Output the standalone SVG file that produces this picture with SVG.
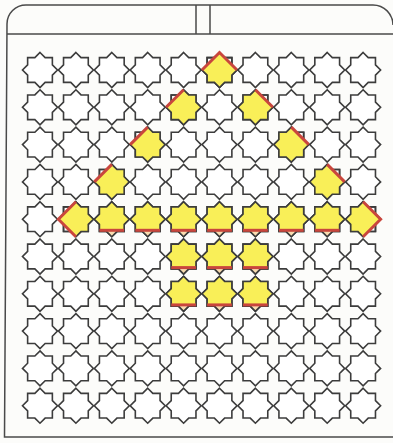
<svg xmlns="http://www.w3.org/2000/svg" xmlns:xlink="http://www.w3.org/1999/xlink" width="393" height="443" viewBox="0 0 393 443">
<style>
.bg{fill:#fcfcfa}
.fr{fill:none;stroke:#4a4a4a;stroke-width:1.5}
.st{fill:#fff;stroke:#3c3c3c;stroke-width:1.6}
.so{fill:none;stroke:#3c3c3c;stroke-width:1.6}
.y{fill:#f9ef58}
.tip{fill:#f9dcb0}
.r{fill:none;stroke:#c9463d;stroke-width:3}
</style>
<defs>
<path id="sp" d="M0,-17.5 L5.13,-12.37 L12.37,-12.37 L12.37,-5.13 L17.5,0 L12.37,5.13 L12.37,12.37 L5.13,12.37 L0,17.5 L-5.13,12.37 L-12.37,12.37 L-12.37,5.13 L-17.5,0 L-12.37,-5.13 L-12.37,-12.37 L-5.13,-12.37 Z"/>
<g id="star"><use href="#sp" class="st"/></g>
<g id="yB"><use href="#sp" class="st"/><path class="y" d="M0,-17.5 L5.13,-12.37 L12.37,-12.37 L12.37,-5.13 L17.5,0 L12.37,5.13 L12.37,12.37 L-12.37,12.37 L-12.37,5.13 L-17.5,0 L-12.37,-5.13 L-12.37,-12.37 L-5.13,-12.37 Z"/><path class="tip" d="M-5.13,12.37 L0,17.5 L5.13,12.37 Z"/><use href="#sp" class="so"/><path class="r" d="M-12.37,11.1 H12.37"/></g>
<g id="yTL"><use href="#sp" class="st"/><path class="y" d="M0,-17.5 L5.13,-12.37 L12.37,-12.37 L12.37,-5.13 L17.5,0 L12.37,5.13 L12.37,12.37 L5.13,12.37 L0,17.5 L-5.13,12.37 L-12.37,12.37 L-12.37,5.13 L-17.5,0 Z"/><use href="#sp" class="so"/><path class="r" d="M-17.5,0 L0,-17.5"/></g>
<g id="yTR"><use href="#sp" class="st"/><path class="y" d="M0,-17.5 L17.5,0 L12.37,5.13 L12.37,12.37 L5.13,12.37 L0,17.5 L-5.13,12.37 L-12.37,12.37 L-12.37,5.13 L-17.5,0 L-12.37,-5.13 L-12.37,-12.37 L-5.13,-12.37 Z"/><use href="#sp" class="so"/><path class="r" d="M0,-17.5 L17.5,0"/></g>
<g id="yRoof"><use href="#sp" class="st"/><path class="y" d="M0,-17.5 L17.5,0 L12.37,5.13 L12.37,12.37 L5.13,12.37 L0,17.5 L-5.13,12.37 L-12.37,12.37 L-12.37,5.13 L-17.5,0 Z"/><use href="#sp" class="so"/><path class="r" d="M-17.5,0 L0,-17.5 L17.5,0"/></g>
<g id="yL"><use href="#sp" class="st"/><path class="y" d="M0,-17.5 L5.13,-12.37 L12.37,-12.37 L12.37,-5.13 L17.5,0 L12.37,5.13 L12.37,12.37 L5.13,12.37 L0,17.5 L-17.5,0 Z"/><use href="#sp" class="so"/><path class="r" d="M0,-17.5 L-17.5,0 L0,17.5"/></g>
<g id="yR"><use href="#sp" class="st"/><path class="y" d="M0,-17.5 L17.5,0 L0,17.5 L-5.13,12.37 L-12.37,12.37 L-12.37,5.13 L-17.5,0 L-12.37,-5.13 L-12.37,-12.37 L-5.13,-12.37 Z"/><use href="#sp" class="so"/><path class="r" d="M0,-17.5 L17.5,0 L0,17.5"/></g>
</defs>
<rect class="bg" x="0" y="0" width="393" height="443"/>
<g id="frame">
<path class="fr" d="M396,437 L4.5,437 L7,24 A19,19 0 0 1 26,5 L373,5 A20,20 0 0 1 393,25"/>
<path class="fr" d="M7,34 H394 M196,5 V34 M210,5 V34"/>
</g>
<g id="row1">
<use id="s1-1" href="#star" x="40" y="70"/><use id="s1-2" href="#star" x="75.9" y="70"/><use id="s1-3" href="#star" x="111.8" y="70"/><use id="s1-4" href="#star" x="147.7" y="70"/><use id="s1-5" href="#star" x="183.6" y="70"/><use id="s1-6" href="#yRoof" x="219.5" y="70"/><use id="s1-7" href="#star" x="255.4" y="70"/><use id="s1-8" href="#star" x="291.3" y="70"/><use id="s1-9" href="#star" x="327.2" y="70"/><use id="s1-10" href="#star" x="363.1" y="70"/>
</g>
<g id="row2">
<use id="s2-1" href="#star" x="40" y="107.3"/><use id="s2-2" href="#star" x="75.9" y="107.3"/><use id="s2-3" href="#star" x="111.8" y="107.3"/><use id="s2-4" href="#star" x="147.7" y="107.3"/><use id="s2-5" href="#yTL" x="183.6" y="107.3"/><use id="s2-6" href="#star" x="219.5" y="107.3"/><use id="s2-7" href="#yTR" x="255.4" y="107.3"/><use id="s2-8" href="#star" x="291.3" y="107.3"/><use id="s2-9" href="#star" x="327.2" y="107.3"/><use id="s2-10" href="#star" x="363.1" y="107.3"/>
</g>
<g id="row3">
<use id="s3-1" href="#star" x="40" y="144.6"/><use id="s3-2" href="#star" x="75.9" y="144.6"/><use id="s3-3" href="#star" x="111.8" y="144.6"/><use id="s3-4" href="#yTL" x="147.7" y="144.6"/><use id="s3-5" href="#star" x="183.6" y="144.6"/><use id="s3-6" href="#star" x="219.5" y="144.6"/><use id="s3-7" href="#star" x="255.4" y="144.6"/><use id="s3-8" href="#yTR" x="291.3" y="144.6"/><use id="s3-9" href="#star" x="327.2" y="144.6"/><use id="s3-10" href="#star" x="363.1" y="144.6"/>
</g>
<g id="row4">
<use id="s4-1" href="#star" x="40" y="181.9"/><use id="s4-2" href="#star" x="75.9" y="181.9"/><use id="s4-3" href="#yTL" x="111.8" y="181.9"/><use id="s4-4" href="#star" x="147.7" y="181.9"/><use id="s4-5" href="#star" x="183.6" y="181.9"/><use id="s4-6" href="#star" x="219.5" y="181.9"/><use id="s4-7" href="#star" x="255.4" y="181.9"/><use id="s4-8" href="#star" x="291.3" y="181.9"/><use id="s4-9" href="#yTR" x="327.2" y="181.9"/><use id="s4-10" href="#star" x="363.1" y="181.9"/>
</g>
<g id="row5">
<use id="s5-1" href="#star" x="40" y="219.2"/><use id="s5-2" href="#yL" x="75.9" y="219.2"/><use id="s5-3" href="#yB" x="111.8" y="219.2"/><use id="s5-4" href="#yB" x="147.7" y="219.2"/><use id="s5-5" href="#yB" x="183.6" y="219.2"/><use id="s5-6" href="#yB" x="219.5" y="219.2"/><use id="s5-7" href="#yB" x="255.4" y="219.2"/><use id="s5-8" href="#yB" x="291.3" y="219.2"/><use id="s5-9" href="#yB" x="327.2" y="219.2"/><use id="s5-10" href="#yR" x="363.1" y="219.2"/>
</g>
<g id="row6">
<use id="s6-1" href="#star" x="40" y="256.5"/><use id="s6-2" href="#star" x="75.9" y="256.5"/><use id="s6-3" href="#star" x="111.8" y="256.5"/><use id="s6-4" href="#star" x="147.7" y="256.5"/><use id="s6-5" href="#yB" x="183.6" y="256.5"/><use id="s6-6" href="#yB" x="219.5" y="256.5"/><use id="s6-7" href="#yB" x="255.4" y="256.5"/><use id="s6-8" href="#star" x="291.3" y="256.5"/><use id="s6-9" href="#star" x="327.2" y="256.5"/><use id="s6-10" href="#star" x="363.1" y="256.5"/>
</g>
<g id="row7">
<use id="s7-1" href="#star" x="40" y="293.8"/><use id="s7-2" href="#star" x="75.9" y="293.8"/><use id="s7-3" href="#star" x="111.8" y="293.8"/><use id="s7-4" href="#star" x="147.7" y="293.8"/><use id="s7-5" href="#yB" x="183.6" y="293.8"/><use id="s7-6" href="#yB" x="219.5" y="293.8"/><use id="s7-7" href="#yB" x="255.4" y="293.8"/><use id="s7-8" href="#star" x="291.3" y="293.8"/><use id="s7-9" href="#star" x="327.2" y="293.8"/><use id="s7-10" href="#star" x="363.1" y="293.8"/>
</g>
<g id="row8">
<use id="s8-1" href="#star" x="40" y="331.1"/><use id="s8-2" href="#star" x="75.9" y="331.1"/><use id="s8-3" href="#star" x="111.8" y="331.1"/><use id="s8-4" href="#star" x="147.7" y="331.1"/><use id="s8-5" href="#star" x="183.6" y="331.1"/><use id="s8-6" href="#star" x="219.5" y="331.1"/><use id="s8-7" href="#star" x="255.4" y="331.1"/><use id="s8-8" href="#star" x="291.3" y="331.1"/><use id="s8-9" href="#star" x="327.2" y="331.1"/><use id="s8-10" href="#star" x="363.1" y="331.1"/>
</g>
<g id="row9">
<use id="s9-1" href="#star" x="40" y="368.4"/><use id="s9-2" href="#star" x="75.9" y="368.4"/><use id="s9-3" href="#star" x="111.8" y="368.4"/><use id="s9-4" href="#star" x="147.7" y="368.4"/><use id="s9-5" href="#star" x="183.6" y="368.4"/><use id="s9-6" href="#star" x="219.5" y="368.4"/><use id="s9-7" href="#star" x="255.4" y="368.4"/><use id="s9-8" href="#star" x="291.3" y="368.4"/><use id="s9-9" href="#star" x="327.2" y="368.4"/><use id="s9-10" href="#star" x="363.1" y="368.4"/>
</g>
<g id="row10">
<use id="s10-1" href="#star" x="40" y="405.7"/><use id="s10-2" href="#star" x="75.9" y="405.7"/><use id="s10-3" href="#star" x="111.8" y="405.7"/><use id="s10-4" href="#star" x="147.7" y="405.7"/><use id="s10-5" href="#star" x="183.6" y="405.7"/><use id="s10-6" href="#star" x="219.5" y="405.7"/><use id="s10-7" href="#star" x="255.4" y="405.7"/><use id="s10-8" href="#star" x="291.3" y="405.7"/><use id="s10-9" href="#star" x="327.2" y="405.7"/><use id="s10-10" href="#star" x="363.1" y="405.7"/>
</g>
</svg>
